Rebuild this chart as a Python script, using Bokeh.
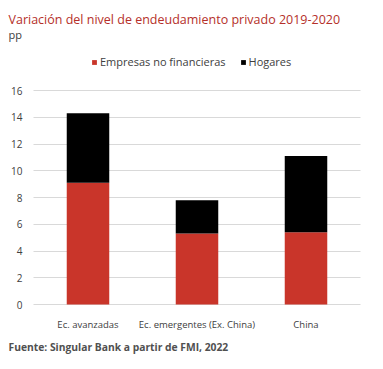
from bokeh.plotting import figure
from bokeh.models import (ColumnDataSource, Range1d, Label, Legend, LegendItem,
                          SingleIntervalTicker, FixedTicker)
from bokeh.embed import file_html
from bokeh.resources import INLINE

categories = ["Ec. avanzadas", "Ec. emergentes (Ex. China)", "China"]
empresas = [9.1, 5.3, 5.4]
hogares = [5.2, 2.5, 5.7]
series_names = ["Empresas no financieras", "Hogares"]
y_max = 16
y_step = 2

RED = "#C9352A"
BLACK = "#000000"
TXT = "#404040"
FONT = "Open Sans"

W, H = 383, 369
# pixel layout targets
plot_left, plot_right = 33, 360
zero_px, top_px = 304, 90
cat_w = (plot_right - plot_left) / len(categories)
c0 = plot_left + cat_w / 2
ppu = (zero_px - top_px) / y_max

def xpx(px):
    return (px - c0) / cat_w

xs = list(range(len(categories)))
source = ColumnDataSource(dict(x=xs, empresas=empresas, hogares=hogares))

p = figure(width=W, height=H, output_backend="svg", toolbar_location=None,
           x_range=Range1d(xpx(0), xpx(W)),
           y_range=Range1d(-(H - zero_px) / ppu, y_max + top_px / ppu),
           min_border=0, min_border_left=0, min_border_right=0,
           min_border_top=0, min_border_bottom=0)

rs = p.vbar_stack(["empresas", "hogares"], x="x", width=0.39, color=[RED, BLACK],
                  line_width=0, source=source)

p.outline_line_color = None
p.xgrid.grid_line_color = None
p.ygrid.grid_line_color = "#d9d9d9"
p.ygrid.grid_line_width = 1
p.ygrid.bounds = (0, y_max)
p.ygrid.cross_bounds = (xpx(plot_left), xpx(plot_right))
p.ygrid.ticker = SingleIntervalTicker(interval=y_step)

p.yaxis.ticker = SingleIntervalTicker(interval=y_step)
p.yaxis.bounds = (0, y_max)
p.yaxis.fixed_location = xpx(plot_left)
p.xaxis.ticker = FixedTicker(ticks=xs)
p.xaxis.major_label_overrides = {i: c for i, c in zip(xs, categories)}
p.xaxis.fixed_location = 0
for ax in (p.xaxis, p.yaxis):
    ax.axis_line_color = None
    ax.major_tick_line_color = None
    ax.minor_tick_line_color = None
    ax.major_label_text_font = FONT
    ax.major_label_text_color = TXT
p.yaxis.major_label_text_font_size = "10px"
p.yaxis.major_label_standoff = 5
p.xaxis.major_label_text_font_size = "9.5px"
p.xaxis.major_label_standoff = 7

legend = Legend(items=[LegendItem(label=series_names[0], renderers=[rs[0]]),
                       LegendItem(label=series_names[1], renderers=[rs[1]])],
                orientation="horizontal", location=(91, H - 69))
legend.glyph_width = 6
legend.glyph_height = 6
legend.label_height = 13
legend.label_standoff = 3
legend.spacing = 14
legend.padding = 0
legend.margin = 0
legend.border_line_color = None
legend.background_fill_alpha = 0
legend.label_text_font = FONT
legend.label_text_font_size = "11px"
legend.label_text_color = TXT
p.add_layout(legend, "center")

p.add_layout(Label(x=8, y=H - 19, x_units="screen", y_units="screen",
                   text="Variación del nivel de endeudamiento privado 2019-2020",
                   text_font=FONT, text_font_size="12.5px", text_color="#B5302A",
                   text_baseline="middle"))
p.add_layout(Label(x=8, y=H - 34, x_units="screen", y_units="screen", text="pp",
                   text_font=FONT, text_font_size="11px", text_color=TXT,
                   text_baseline="middle"))
p.add_layout(Label(x=8, y=H - 346, x_units="screen", y_units="screen",
                   text="Fuente: Singular Bank a partir de FMI, 2022",
                   text_font=FONT, text_font_size="10.3px", text_font_style="bold",
                   text_color="#505050", text_baseline="middle"))

open("out.html", "w").write(file_html(p, INLINE))
